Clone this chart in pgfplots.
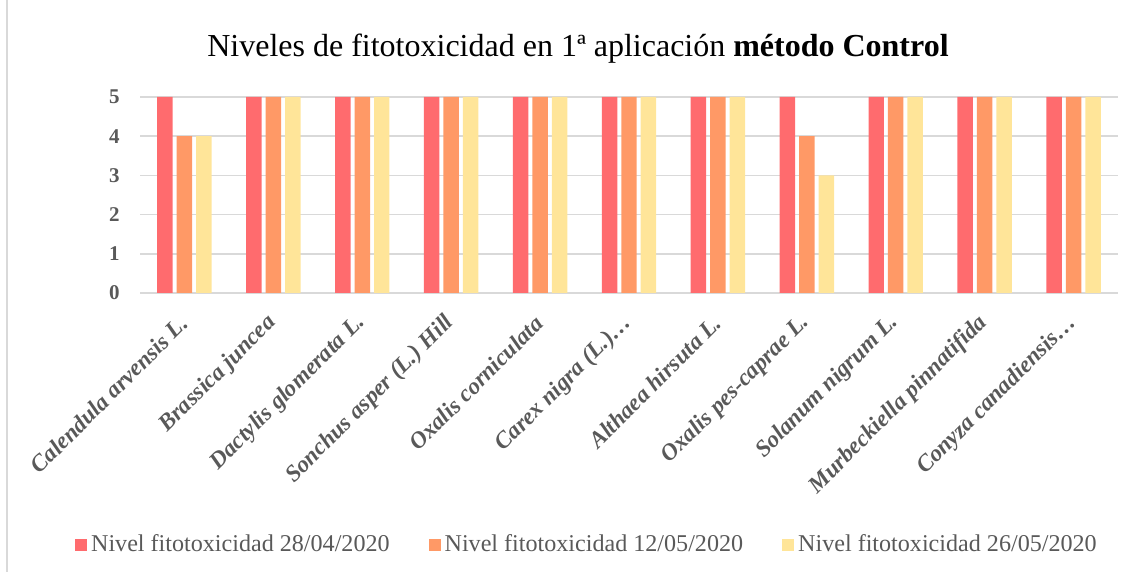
\documentclass[border=0pt]{standalone}
\usepackage{fontspec}
\setmainfont{Liberation Serif}
\usepackage{pgfplots}
\pgfplotsset{compat=1.18}
\definecolor{c1}{RGB}{255,107,110}
\definecolor{c2}{RGB}{255,153,102}
\definecolor{c3}{RGB}{255,229,153}
\definecolor{txt}{RGB}{89,89,89}
\definecolor{grd}{RGB}{217,217,217}
\begin{document}
\begin{tikzpicture}
\path[use as bounding box] (0pt,0pt) rectangle (570.5pt,286pt);
\draw[grd, line width=0.8pt] (3.5pt,0pt) -- (3.5pt,286pt);
\node[anchor=base, font=\fontsize{16}{19}\selectfont] at (289pt,257.5pt) {Niveles de fitotoxicidad en 1ª aplicación \textbf{método Control}};
\begin{axis}[
  at={(70pt,139.5pt)}, anchor=south west,
  scale only axis, width=489pt, height=98pt,
  ymin=0, ymax=5, xmin=-0.5, xmax=10.5,
  ytick={0,1,2,3,4,5},
  xtick={0,1,2,3,4,5,6,7,8,9,10},
  xticklabels={Calendula arvensis L., Brassica juncea, Dactylis glomerata L., Sonchus asper (L.) Hill, Oxalis corniculata, Carex nigra (L.)…, Althaea hirsuta L., Oxalis pes-caprae L., Solanum nigrum L., Murbeckiella pinnatifida, Conyza canadiensis…},
  ymajorgrids, major grid style={grd, line width=0.75pt},
  axis line style={draw=none},
  major tick length=0pt,
  /pgf/number format/assume math mode=true,
  xticklabel style={xshift=-0.3pt, yshift=-13.2pt, rotate=45, anchor=east, inner sep=0pt, font=\fontsize{11.7}{13}\selectfont\bfseries\itshape, text=txt},
  yticklabel style={font=\fontsize{10.5}{12}\selectfont\bfseries, text=txt, inner sep=0pt, xshift=-10pt},
  ybar, bar width=0.174,
  legend columns=3,
  legend style={draw=none, at={(0.458,-1.285)}, anchor=center, font=\fontsize{12.05}{14}\selectfont, text=txt, /tikz/every even column/.append style={column sep=17.5pt}},
  legend image code/.code={\fill[#1] (0pt,-3pt) rectangle (6pt,3pt);},
]
\addplot[fill=c1, draw=none, bar shift=-0.219] coordinates {(0,5)(1,5)(2,5)(3,5)(4,5)(5,5)(6,5)(7,5)(8,5)(9,5)(10,5)};
\addplot[fill=c2, draw=none, bar shift=0] coordinates {(0,4)(1,5)(2,5)(3,5)(4,5)(5,5)(6,5)(7,4)(8,5)(9,5)(10,5)};
\addplot[fill=c3, draw=none, bar shift=0.219] coordinates {(0,4)(1,5)(2,5)(3,5)(4,5)(5,5)(6,5)(7,3)(8,5)(9,5)(10,5)};
\legend{Nivel fitotoxicidad 28/04/2020, Nivel fitotoxicidad 12/05/2020, Nivel fitotoxicidad 26/05/2020}
\end{axis}
\end{tikzpicture}
\end{document}
